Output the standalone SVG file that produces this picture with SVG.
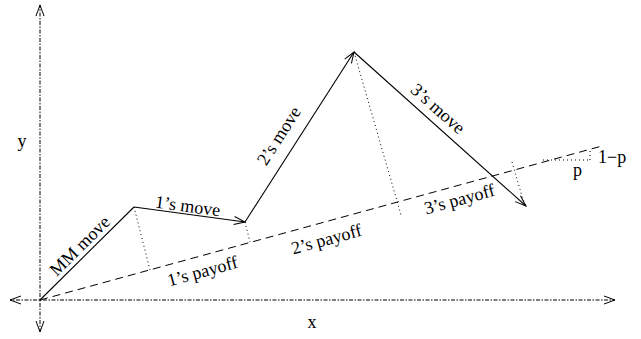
<svg xmlns="http://www.w3.org/2000/svg" width="641" height="339" viewBox="0 0 641 339">
<style>
text{font-family:"Liberation Serif","Times New Roman",serif;font-size:18px;fill:#000}
.axis{stroke:#000;stroke-width:1;fill:none;stroke-dasharray:1.5,1.5,4,1.5}
.move{stroke:#000;stroke-width:1.1;fill:none}
.dash{stroke:#000;stroke-width:1;fill:none;stroke-dasharray:8,5}
.dot{stroke:#000;stroke-width:1;fill:none;stroke-dasharray:1,3}
</style>
<defs>
<marker id="ah" markerUnits="userSpaceOnUse" markerWidth="14" markerHeight="10" refX="11" refY="4" orient="auto" overflow="visible">
<path d="M0,0 L11,4 L0,8" fill="none" stroke="#000" stroke-width="1"/>
</marker>
</defs>
<rect width="641" height="339" fill="#fff"/>
<g id="axes">
<line class="axis" x1="40" y1="300" x2="40" y2="5" marker-end="url(#ah)"/>
<line class="axis" x1="40" y1="300" x2="40" y2="332" marker-end="url(#ah)"/>
<line class="axis" x1="40" y1="300" x2="10" y2="300" marker-end="url(#ah)"/>
<line class="axis" x1="40" y1="300" x2="615" y2="300" marker-end="url(#ah)"/>
<text x="312" y="328" text-anchor="middle">x</text>
<text x="22" y="147" text-anchor="middle">y</text>
</g>
<g id="connectors">
<line class="move" x1="40" y1="300" x2="134" y2="207"/>
<line class="move" x1="134" y1="207" x2="245" y2="222" marker-end="url(#ah)"/>
<line class="move" x1="245" y1="222" x2="354" y2="52" marker-end="url(#ah)"/>
<line class="move" x1="354" y1="52" x2="526" y2="206" marker-end="url(#ah)"/>
<line class="dash" x1="40" y1="300" x2="602" y2="146"/>
<line class="dot" x1="134" y1="207" x2="150" y2="270"/>
<line class="dot" x1="245" y1="222" x2="250" y2="242"/>
<line class="dot" x1="354" y1="52" x2="401" y2="215"/>
<line class="dot" x1="512" y1="162" x2="524" y2="203"/>
<line class="dot" x1="543" y1="160" x2="590" y2="160"/>
<line class="dot" x1="590" y1="160" x2="590" y2="149"/>
</g>
<g id="labels">
<text transform="translate(84,250) rotate(-44.7)" text-anchor="middle">MM move</text>
<text transform="translate(187,212) rotate(7.7)" text-anchor="middle">1’s move</text>
<text transform="translate(284,139) rotate(-57.3)" text-anchor="middle">2’s move</text>
<text transform="translate(434,113) rotate(41.8)" text-anchor="middle">3’s move</text>
<text transform="translate(204,277) rotate(-15.3)" text-anchor="middle">1’s payoff</text>
<text transform="translate(328,245) rotate(-15.3)" text-anchor="middle">2’s payoff</text>
<text transform="translate(461,205) rotate(-15.3)" text-anchor="middle">3’s payoff</text>
<text x="598" y="163">1−p</text>
<text x="573" y="176">p</text>
</g>
</svg>
